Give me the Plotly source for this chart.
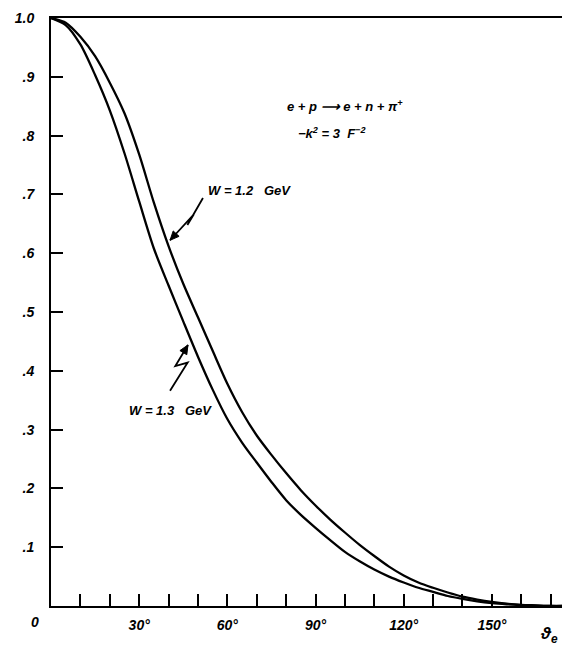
import math
import plotly.graph_objects as go

# scattering angle (degrees)
theta = [0, 5, 10, 15, 20, 25, 30, 35, 40, 45, 50, 55, 60, 65, 70, 75, 80, 85, 90,
         95, 100, 105, 110, 115, 120, 125, 130, 135, 140, 145, 150, 155, 160, 165, 170, 175]

# W = 1.2 GeV curve
w12 = [1.000, 0.992, 0.968, 0.935, 0.890, 0.838, 0.768, 0.686, 0.612, 0.548, 0.491, 0.434,
       0.378, 0.330, 0.290, 0.257, 0.226, 0.197, 0.171, 0.147, 0.125, 0.104, 0.085, 0.067,
       0.052, 0.040, 0.031, 0.023, 0.016, 0.011, 0.007, 0.004, 0.002, 0.001, 0.0, 0.0]

# W = 1.3 GeV curve
w13 = [1.000, 0.988, 0.955, 0.903, 0.843, 0.770, 0.688, 0.608, 0.545, 0.484, 0.424, 0.368,
       0.318, 0.278, 0.244, 0.211, 0.180, 0.155, 0.133, 0.112, 0.092, 0.076, 0.062, 0.050,
       0.040, 0.031, 0.024, 0.017, 0.012, 0.008, 0.005, 0.003, 0.0015, 0.0005, 0.0, 0.0]

x_tickvals = [30, 60, 90, 120, 150]
x_ticktext = ["30°", "60°", "90°", "120°", "150°"]
x_minor_step = 10
y_tickvals = [0.1, 0.2, 0.3, 0.4, 0.5, 0.6, 0.7, 0.8, 0.9, 1.0]
y_ticktext = [".1", ".2", ".3", ".4", ".5", ".6", ".7", ".8", ".9", "1.0"]

FONT = "Liberation Sans"
lab_font = dict(family=FONT, size=14, color="black", weight="bold", style="italic")
txt_font = dict(family=FONT, size=13, color="black", weight="bold", style="italic")

W, H = 570, 650
ML, MR, MT, MB = 43, 0, 10, 52
XR = [0, 179.3]
YR = [0, 1.0]
PX_X = (W - ML - MR) / (XR[1] - XR[0])   # pixels per degree
PX_Y = (H - MT - MB) / (YR[1] - YR[0])   # pixels per unit

fig = go.Figure()
fig.add_trace(go.Scatter(x=theta, y=w12, mode="lines",
                         line=dict(color="black", width=2.3, shape="spline", smoothing=0.8),
                         hoverinfo="skip", showlegend=False))
fig.add_trace(go.Scatter(x=theta, y=w13, mode="lines",
                         line=dict(color="black", width=2.3, shape="spline", smoothing=0.8),
                         hoverinfo="skip", showlegend=False))

fig.update_layout(
    width=W, height=H,
    margin=dict(l=ML, r=MR, t=MT, b=MB),
    paper_bgcolor="white", plot_bgcolor="white",
    showlegend=False,
)
fig.update_xaxes(
    range=XR, showgrid=False, zeroline=False,
    showline=True, linecolor="black", linewidth=2, mirror=True,
    ticks="inside", ticklen=12, tickwidth=1.5, tickcolor="black",
    tickvals=x_tickvals, ticktext=x_ticktext, tickfont=lab_font, ticklabelstandoff=5,
    minor=dict(tick0=0, dtick=x_minor_step, ticks="inside", ticklen=12, tickwidth=1.5,
               tickcolor="black", showgrid=False),
)
fig.update_yaxes(
    range=YR, showgrid=False, zeroline=False,
    showline=True, linecolor="black", linewidth=2,
    ticks="inside", ticklen=12, tickwidth=1.5, tickcolor="black",
    tickvals=y_tickvals, ticktext=y_ticktext, tickfont=lab_font, ticklabelstandoff=12,
)


def lightning(points):
    """zigzag arrow through points (data coords); arrowhead at the last point"""
    path = "M " + " L ".join(f"{x},{y}" for x, y in points)
    fig.add_shape(type="path", xref="x", yref="y", path=path,
                  line=dict(color="black", width=1.8))
    (x0, y0), (x1, y1) = points[-2], points[-1]
    dx, dy = (x1 - x0) * PX_X, (y1 - y0) * PX_Y
    n = math.hypot(dx, dy)
    ux, uy = dx / n, dy / n
    L, Wd = 9.0, 4.0
    bx, by = -ux * L, -uy * L
    p1 = (x1 + (bx - uy * Wd) / PX_X, y1 + (by + ux * Wd) / PX_Y)
    p2 = (x1 + (bx + uy * Wd) / PX_X, y1 + (by - ux * Wd) / PX_Y)
    tri = f"M {x1},{y1} L {p1[0]},{p1[1]} L {p2[0]},{p2[1]} Z"
    fig.add_shape(type="path", xref="x", yref="y", path=tri,
                  line=dict(color="black", width=1), fillcolor="black")


lightning([(51.7, 0.694), (46.4, 0.648), (48.6, 0.666), (40.5, 0.622)])
lightning([(40.5, 0.366), (46.5, 0.414), (42.3, 0.408), (46.6, 0.444)])

fig.add_annotation(x=52.7, y=0.706, xref="x", yref="y", text="W = 1.2   GeV", showarrow=False,
                   xanchor="left", yanchor="middle", font=txt_font)
fig.add_annotation(x=26.0, y=0.333, xref="x", yref="y", text="W = 1.3   GeV", showarrow=False,
                   xanchor="left", yanchor="middle", font=txt_font)
fig.add_annotation(x=79.6, y=0.850, xref="x", yref="y",
                   text="e + p ⟶ e + n + π<sup>+</sup>", showarrow=False,
                   xanchor="left", yanchor="middle", font=txt_font)
fig.add_annotation(x=83.3, y=0.804, xref="x", yref="y",
                   text="−k<sup>2</sup> = 3  F<sup>−2</sup>", showarrow=False,
                   xanchor="left", yanchor="middle", font=txt_font)

fig.add_annotation(x=-0.030, y=-0.027, xref="paper", yref="paper", text="0", showarrow=False,
                   xanchor="center", yanchor="middle", font=lab_font)
fig.add_annotation(x=0.945, y=-0.050, xref="paper", yref="paper", text="ϑ<sub>e</sub>", showarrow=False,
                   xanchor="center", yanchor="middle",
                   font=dict(family=FONT, size=17, color="black", weight="bold", style="italic"))

fig.write_html("out.html")
